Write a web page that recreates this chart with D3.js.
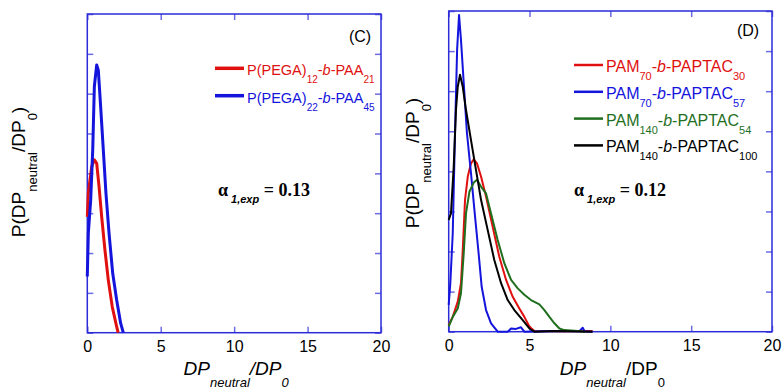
<!DOCTYPE html>
<html>
<head>
<meta charset="utf-8">
<script src="https://cdn.jsdelivr.net/npm/d3@7"></script>
<style>
  body { margin: 0; background: #fff; }
  text { font-family: "Liberation Sans", Arial, sans-serif; }
</style>
</head>
<body>
<div id="chart"></div>
<script>
// tick values shared by both panels
var xTicks = [0, 5, 10, 15, 20];
var yTicks = [0, 0.1, 0.2, 0.3, 0.4, 0.5, 0.6, 0.7, 0.8];

// panel C : [DP_neutral/DP_0, P]
var pega12paa21 = [[0, 0.291], [0.07, 0.35], [0.18, 0.383], [0.3, 0.417], [0.48, 0.434],
  [0.64, 0.425], [0.8, 0.367], [0.98, 0.291], [1.2, 0.208], [1.43, 0.132],
  [1.7, 0.065], [2.0, 0.015], [2.1, 0]];
var pega22paa45 = [[0, 0.141], [0.07, 0.25], [0.23, 0.333], [0.37, 0.459], [0.48, 0.618],
  [0.64, 0.672], [0.75, 0.659], [0.91, 0.567], [1.09, 0.459], [1.27, 0.35],
  [1.48, 0.25], [1.73, 0.149], [2.0, 0.082], [2.27, 0.024], [2.45, 0]];

// panel D
var pam70paptac30 = [[0, 0.017], [0.25, 0.037], [0.56, 0.075], [0.76, 0.121], [0.87, 0.204],
  [1.01, 0.329], [1.18, 0.387], [1.38, 0.42], [1.55, 0.43], [1.75, 0.42], [2.0, 0.387],
  [2.31, 0.337], [2.72, 0.262], [3.13, 0.187], [3.55, 0.129], [3.96, 0.087],
  [4.37, 0.058], [4.68, 0.037], [4.99, 0.013], [5.3, 0.002], [7.0, 0.001], [8.9, 0.002]];
var pam70paptac57 = [[0, 0.067], [0.1, 0.121], [0.25, 0.245], [0.39, 0.495], [0.52, 0.703],
  [0.64, 0.79], [0.76, 0.728], [0.93, 0.62], [1.13, 0.495], [1.38, 0.395],
  [1.59, 0.304], [1.84, 0.2], [2.04, 0.112], [2.31, 0.054], [2.62, 0.021],
  [3.03, 0], [3.65, 0], [3.86, 0.008], [4.16, 0.007], [4.47, 0.011], [4.68, 0],
  [6.5, 0.002], [8.1, 0.002], [8.29, 0.01], [8.4, 0.001], [8.9, 0]];
var pam140paptac54 = [[0, 0.013], [0.25, 0.037], [0.56, 0.058], [0.76, 0.096], [0.93, 0.196],
  [1.07, 0.295], [1.28, 0.349], [1.55, 0.372], [1.75, 0.379], [2.0, 0.362],
  [2.31, 0.345], [2.62, 0.295], [3.03, 0.229], [3.44, 0.171], [3.86, 0.129],
  [4.27, 0.108], [4.68, 0.092], [5.09, 0.079], [5.61, 0.068], [5.92, 0.054],
  [6.23, 0.037], [6.54, 0.021], [6.85, 0.008], [7.15, 0.004], [7.98, 0.002], [8.4, 0]];
var pam140paptac100 = [[0, 0.279], [0.14, 0.295], [0.31, 0.412], [0.45, 0.553], [0.56, 0.611],
  [0.7, 0.641], [0.87, 0.611], [1.07, 0.553], [1.38, 0.478], [1.69, 0.403],
  [2.0, 0.329], [2.41, 0.254], [2.82, 0.179], [3.24, 0.121], [3.65, 0.079],
  [4.06, 0.054], [4.58, 0.029], [4.99, 0.008], [5.3, 0], [6.5, 0.002], [8.9, 0]];

// legend labels, split in [text, subscript?, italic?]
var labelsC = [
  [['P(PEGA)'], ['12', 1], ['-'], ['b', 0, 1], ['-PAA'], ['21', 1]],
  [['P(PEGA)'], ['22', 1], ['-'], ['b', 0, 1], ['-PAA'], ['45', 1]]
];
var labelsD = [
  [['PAM'], ['70', 1], ['-'], ['b', 0, 1], ['-PAPTAC'], ['30', 1]],
  [['PAM'], ['70', 1], ['-'], ['b', 0, 1], ['-PAPTAC'], ['57', 1]],
  [['PAM'], ['140', 1], ['-'], ['b', 0, 1], ['-PAPTAC'], ['54', 1]],
  [['PAM'], ['140', 1], ['-'], ['b', 0, 1], ['-PAPTAC'], ['100', 1]]
];

var red = '#e01010', blue = '#1414dc', green = '#1f6f1f', black = '#000';
var frameColor = '#2b2bd8', tickColor = '#6c6ce4';

var svg = d3.select('#chart').append('svg')
  .attr('width', 782)
  .attr('height', 389);

// writes parts as tspans, shifting subscripts down
function rich(sel, parts, size, subSize, shift) {
  var down = false;
  parts.forEach(function(p) {
    var ts = sel.append('tspan').text(p[0]);
    if(p[1] && !down) { ts.attr('dy', shift); down = true; }
    else if(!p[1] && down) { ts.attr('dy', -shift); down = false; }
    ts.attr('font-size', p[1] ? subSize : size);
    if(p[2]) ts.attr('font-style', 'italic');
  });
}

function panel(cfg) {
  var x = d3.scaleLinear().domain([0, 20]).range([cfg.left, cfg.left + cfg.width]);
  var y = d3.scaleLinear().domain([0, 0.8]).range([cfg.top + cfg.height, cfg.top]);
  var g = svg.append('g');

  // ticks on all four sides, pointing inward
  var axes = [
    [d3.axisBottom(x).tickValues(xTicks).tickSize(-6).tickPadding(8), 0, cfg.top + cfg.height],
    [d3.axisTop(x).tickValues(xTicks).tickSize(-6).tickFormat(''), 0, cfg.top],
    [d3.axisLeft(y).tickValues(yTicks).tickSize(-6).tickFormat(''), cfg.left, 0],
    [d3.axisRight(y).tickValues(yTicks).tickSize(-6).tickFormat(''), cfg.left + cfg.width, 0]
  ];
  axes.forEach(function(a) {
    var ax = g.append('g')
      .attr('transform', 'translate(' + a[1] + ',' + a[2] + ')')
      .call(a[0]);
    ax.select('.domain').remove();
    ax.selectAll('line').attr('stroke', tickColor).attr('stroke-width', 1.5);
    ax.selectAll('text')
      .attr('font-family', '"Liberation Sans", Arial, sans-serif')
      .attr('font-size', 16)
      .attr('fill', '#000');
  });

  g.append('rect')
    .attr('x', cfg.left)
    .attr('y', cfg.top)
    .attr('width', cfg.width)
    .attr('height', cfg.height)
    .attr('fill', 'none')
    .attr('stroke', frameColor)
    .attr('stroke-width', 1.5);

  var line = d3.line()
    .x(function(d) { return x(d[0]); })
    .y(function(d) { return y(d[1]); });

  cfg.series.forEach(function(s) {
    g.append('path')
      .datum(s.data)
      .attr('d', line)
      .attr('fill', 'none')
      .attr('stroke', s.color)
      .attr('stroke-width', cfg.lineWidth)
      .attr('stroke-linejoin', 'round');
  });

  // legend
  cfg.series.forEach(function(s, i) {
    var ly = cfg.legY + i * cfg.legStep;
    g.append('line')
      .attr('x1', cfg.legX).attr('x2', cfg.legX + 29)
      .attr('y1', ly).attr('y2', ly)
      .attr('stroke', s.color)
      .attr('stroke-width', cfg.lineWidth + 0.5);
    var t = g.append('text')
      .attr('x', cfg.legX + 32)
      .attr('y', ly + 7)
      .attr('fill', s.color);
    rich(t, s.label, cfg.legSize, cfg.legSub, 8);
  });

  // panel tag
  g.append('text')
    .attr('x', cfg.tagX).attr('y', cfg.tagY)
    .attr('text-anchor', 'middle')
    .attr('font-size', 16)
    .text(cfg.tag);

  // alpha annotation
  var a = g.append('text')
    .attr('x', cfg.alphaX).attr('y', cfg.alphaY)
    .attr('font-weight', 'bold');
  a.append('tspan').text('\u03b1')
    .attr('font-family', '"Liberation Serif", serif').attr('font-size', 18);
  a.append('tspan').text('1,exp')
    .attr('dx', 3).attr('dy', 7)
    .attr('font-size', 11).attr('font-style', 'italic');
  a.append('tspan').text(' = ' + cfg.alpha)
    .attr('dy', -7)
    .attr('font-family', '"Liberation Serif", serif').attr('font-size', 18);

  // x title
  var xt = g.append('text')
    .attr('x', cfg.left + cfg.width / 2 + 2)
    .attr('y', 375)
    .attr('text-anchor', 'middle');
  rich(xt, cfg.xTitle, 19, 13, 12);

  // y title
  var yt = g.append('text')
    .attr('transform', 'translate(' + cfg.yTitleX + ',' + cfg.yTitleY + ') rotate(-90)')
    .attr('text-anchor', 'middle');
  rich(yt, [['P(DP'], ['neutral', 1], ['/DP'], ['0', 1], [')']], 19, 13, 12);
}

panel({
  left: 87.3, top: 14, width: 293.7, height: 318.7,
  lineWidth: 3,
  series: [
    { data: pega12paa21, color: red, label: labelsC[0] },
    { data: pega22paa45, color: blue, label: labelsC[1] }
  ],
  legX: 215, legY: 68.3, legStep: 27.4, legSize: 14.5, legSub: 10,
  tag: '(C)', tagX: 360, tagY: 42,
  alpha: '0.13', alphaX: 218, alphaY: 196,
  xTitle: [['DP', 0, 1], ['neutral', 1, 1], ['/DP', 0, 1], ['0', 1, 1]],
  yTitleX: 25, yTitleY: 172
});

panel({
  left: 448.7, top: 11, width: 323.3, height: 320.7,
  lineWidth: 2,
  series: [
    { data: pam70paptac30, color: red, label: labelsD[0] },
    { data: pam70paptac57, color: blue, label: labelsD[1] },
    { data: pam140paptac54, color: green, label: labelsD[2] },
    { data: pam140paptac100, color: black, label: labelsD[3] }
  ],
  legX: 574, legY: 65, legStep: 26.8, legSize: 16, legSub: 11,
  tag: '(D)', tagX: 748, tagY: 36,
  alpha: '0.12', alphaX: 574, alphaY: 196,
  xTitle: [['DP', 0, 1], ['neutral', 1, 1], ['/DP'], ['0', 1]],
  yTitleX: 419, yTitleY: 163
});
</script>
</body>
</html>
